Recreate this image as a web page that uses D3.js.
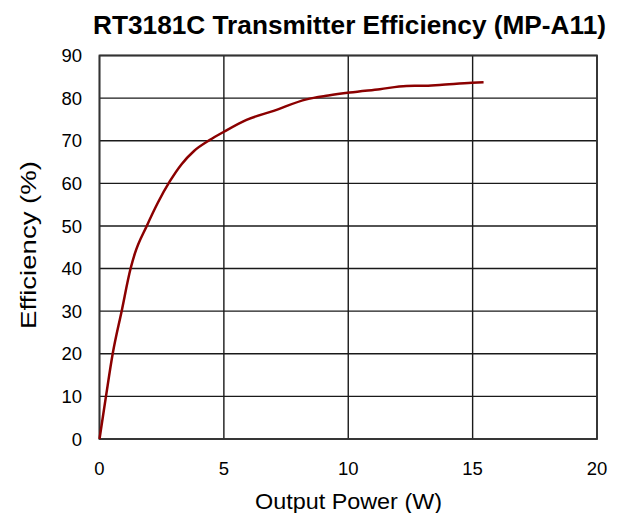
<!DOCTYPE html>
<html>
<head>
<meta charset="utf-8">
<script src="https://cdn.jsdelivr.net/npm/d3@7"></script>
<style>
  body { margin: 0; background: #fff; }
  text { font-family: "Liberation Sans", Arial, sans-serif; fill: #000; }
</style>
</head>
<body>
<div id="chart"></div>
<script>
// output power (W) vs efficiency (%)
const power = [0, 0.26, 0.53, 0.89, 1.25, 1.42, 1.9, 2.35, 2.83, 3.3, 3.8, 4.44, 5, 5.91, 7, 8.32, 9.2, 10.06, 11.27, 12.34, 13.0, 13.67, 14.97, 15.44];
const efficiency = [0, 10, 20, 30, 40, 43.5, 50, 55.5, 60.5, 64.5, 67.6, 70.2, 72.1, 74.9, 77, 79.7, 80.6, 81.3, 82.1, 82.85, 82.9, 83.1, 83.6, 83.7];
const xTicks = [0, 5, 10, 15, 20];
const yTicks = [0, 10, 20, 30, 40, 50, 60, 70, 80, 90];

const width = 619, height = 513;
const margin = { top: 55.5, right: 22, bottom: 74, left: 99.5 };

const svg = d3.select("#chart").append("svg")
  .attr("width", width)
  .attr("height", height);

const x = d3.scaleLinear().domain([0, 20]).range([margin.left, width - margin.right]);
const y = d3.scaleLinear().domain([0, 90]).range([height - margin.bottom, margin.top]);

// grid
svg.append("g")
  .selectAll("line")
  .data(yTicks)
  .join("line")
  .attr("x1", x(0)).attr("x2", x(20))
  .attr("y1", d => y(d)).attr("y2", d => y(d))
  .attr("stroke", "#1a1a1a")
  .attr("stroke-width", 1.4);

svg.append("g")
  .selectAll("line")
  .data(xTicks)
  .join("line")
  .attr("y1", y(0)).attr("y2", y(90))
  .attr("x1", d => x(d)).attr("x2", d => x(d))
  .attr("stroke", "#1a1a1a")
  .attr("stroke-width", 1.4);

// border
svg.append("rect")
  .attr("x", x(0)).attr("y", y(90))
  .attr("width", x(20) - x(0)).attr("height", y(0) - y(90))
  .attr("fill", "none")
  .attr("stroke", "#333")
  .attr("stroke-width", 1.8);

// tick labels
svg.append("g")
  .selectAll("text")
  .data(yTicks)
  .join("text")
  .attr("x", 82)
  .attr("y", d => y(d))
  .attr("dy", "0.36em")
  .attr("text-anchor", "end")
  .style("font-size", "18.5px")
  .text(d => d);

svg.append("g")
  .selectAll("text")
  .data(xTicks)
  .join("text")
  .attr("x", d => x(d))
  .attr("y", 475)
  .attr("text-anchor", "middle")
  .style("font-size", "18.5px")
  .text(d => d);

// curve
const line = d3.line()
  .x((d, i) => x(power[i]))
  .y(d => y(d))
  .curve(d3.curveMonotoneX);

svg.append("path")
  .datum(efficiency)
  .attr("fill", "none")
  .attr("stroke", "#8b0000")
  .attr("stroke-width", 2.5)
  .attr("d", line);

// title and labels
svg.append("text")
  .attr("x", 349.5)
  .attr("y", 33.5)
  .attr("text-anchor", "middle")
  .attr("textLength", 513)
  .attr("lengthAdjust", "spacingAndGlyphs")
  .style("font-size", "25px")
  .style("font-weight", "bold")
  .text("RT3181C Transmitter Efficiency (MP-A11)");

svg.append("text")
  .attr("x", 348.5)
  .attr("y", 509)
  .attr("text-anchor", "middle")
  .attr("textLength", 187)
  .attr("lengthAdjust", "spacingAndGlyphs")
  .style("font-size", "22px")
  .text("Output Power (W)");

svg.append("text")
  .attr("transform", "translate(36,245) rotate(-90)")
  .attr("text-anchor", "middle")
  .attr("textLength", 168)
  .attr("lengthAdjust", "spacingAndGlyphs")
  .style("font-size", "22px")
  .text("Efficiency (%)");
</script>
</body>
</html>
